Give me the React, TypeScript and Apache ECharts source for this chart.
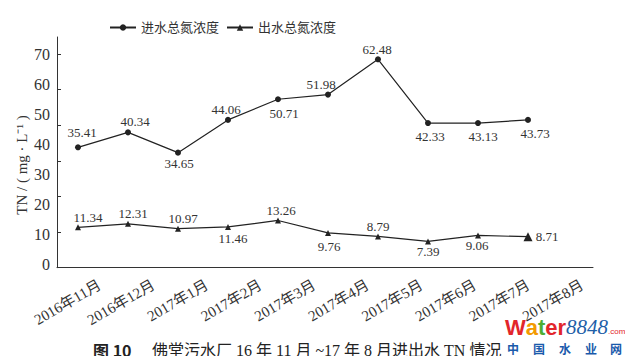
import React, { useEffect, useRef } from "react";
import * as echarts from "echarts";

const categories = [
  "2016年11月", "2016年12月", "2017年1月", "2017年2月", "2017年3月",
  "2017年4月", "2017年5月", "2017年6月", "2017年7月", "2017年8月",
];
// positions of the inflow points as drawn in the figure (against the tick-mark scale)
const inflowPlot = [33.8, 38.0, 32.3, 41.5, 47.3, 48.6, 58.5, 40.6, 40.6, 41.5];
const inflowLabels = ["35.41", "40.34", "34.65", "44.06", "50.71", "51.98", "62.48", "42.33", "43.13", "43.73"];
const outflowValues = [11.34, 12.31, 10.97, 11.46, 13.26, 9.76, 8.79, 7.39, 9.06, 8.71];
const outflowLabels = ["11.34", "12.31", "10.97", "11.46", "13.26", "9.76", "8.79", "7.39", "9.06", "8.71"];
const yLabelTicks = [0, 10, 20, 30, 40, 50, 60, 70];
const yTickMarks = [0, 10, 20, 30, 40, 50, 60];

// label placement (offset from point centre)
const inflowOffsets = [[4, -15], [7, -11], [1, 11], [-2, -10], [6, 14], [-7, -10], [-1, -10], [2, 13], [5, 13], [7, 14]];
const outflowOffsets = [[10, -10], [5, -10], [5, -10], [5, 12], [3, -10], [1, 14], [0, -10], [0, 10], [-1, 10], [19, 0]];

// the figure's printed labels and its tick marks use two different spacings
const LABEL_MIN = -0.896, LABEL_MAX = 75.64; // label scale
const TICK_MIN = 0, TICK_MAX = 64.77; // tick-mark / data scale
const toLabelScale = (t: number) =>
  LABEL_MIN + ((t - TICK_MIN) / (TICK_MAX - TICK_MIN)) * (LABEL_MAX - LABEL_MIN);

const SERIF = "'Liberation Serif', 'Noto Sans CJK SC', serif";
const CJK = "'Noto Sans CJK SC', sans-serif";

export default function App() {
  const ref = useRef<HTMLDivElement>(null);
  useEffect(() => {
    if (!ref.current) return;
    const chart = echarts.init(ref.current, undefined, { renderer: "svg" });
    const labelStyle = { fontSize: 13, color: "#333", fontFamily: SERIF };
    const wmChars = ["中", "国", "水", "业", "网"];
    const wmX = [507, 533, 559, 585, 610];
    chart.setOption({
      animation: false,
      backgroundColor: "#fff",
      textStyle: { fontFamily: SERIF },
      legend: {
        left: 104,
        top: 16,
        itemWidth: 26,
        itemHeight: 8,
        itemGap: 7,
        textStyle: { fontSize: 13, color: "#333", fontFamily: SERIF },
        data: ["进水总氮浓度", "出水总氮浓度"],
      },
      grid: [
        { left: 57, right: 40, top: 37, bottom: 96.3 },
        { left: 73, right: 24, top: 37, bottom: 96.3 },
      ],
      xAxis: [
        {
          type: "value", gridIndex: 0, min: -0.42, max: 10.3,
          axisLine: { show: true, onZero: false, lineStyle: { color: "#333", width: 1 } },
          axisTick: { show: false }, axisLabel: { show: false }, splitLine: { show: false },
        },
        {
          type: "category", gridIndex: 1, data: categories, boundaryGap: true,
          axisLine: { show: false }, axisTick: { show: false },
          axisLabel: { rotate: 30, interval: 0, fontSize: 15, color: "#333", margin: 16, fontFamily: SERIF },
        },
      ],
      yAxis: [
        {
          type: "value", gridIndex: 0, min: LABEL_MIN, max: LABEL_MAX,
          axisLine: { show: true, onZero: false, lineStyle: { color: "#333", width: 1 } },
          axisTick: { show: true, inside: true, length: 4, customValues: yTickMarks.map(toLabelScale), lineStyle: { color: "#333" } },
          splitLine: { show: false },
          axisLabel: { customValues: yLabelTicks, fontSize: 16, color: "#333", margin: 7, fontFamily: SERIF },
        },
        {
          type: "value", gridIndex: 0, min: TICK_MIN, max: TICK_MAX, show: false,
        },
        { type: "value", gridIndex: 1, show: false },
      ],
      series: [
        {
          type: "line", name: "进水总氮浓度", xAxisIndex: 0, yAxisIndex: 1,
          symbol: "circle", symbolSize: 6,
          lineStyle: { color: "#222", width: 1.2 },
          itemStyle: { color: "#222" },
          label: { show: true, ...labelStyle },
          data: inflowPlot.map((v, i) => ({
            value: [i, v],
            label: { show: true, position: "inside", offset: inflowOffsets[i], formatter: inflowLabels[i], ...labelStyle },
          })),
        },
        {
          type: "line", name: "出水总氮浓度", xAxisIndex: 0, yAxisIndex: 1,
          symbol: "triangle", symbolSize: 6,
          lineStyle: { color: "#222", width: 1.2 },
          itemStyle: { color: "#222" },
          label: { show: true, ...labelStyle },
          data: outflowValues.map((v, i) => ({
            value: [i, v],
            symbolSize: i === outflowValues.length - 1 ? 9 : 6,
            label: { show: true, position: "inside", offset: outflowOffsets[i], formatter: outflowLabels[i], ...labelStyle },
          })),
        },
      ],
      graphic: [
        {
          type: "text", x: 22, y: 165, rotation: Math.PI / 2,
          style: { text: "TN / ( mg · L⁻¹ )", fontSize: 15, fill: "#333", fontFamily: SERIF, align: "center", verticalAlign: "middle" },
        },
        {
          type: "text", x: 93, y: 350,
          style: { text: "图 10", fontSize: 16, fontWeight: "bold", fill: "#222", fontFamily: CJK, verticalAlign: "middle" },
        },
        {
          type: "text", x: 152, y: 350,
          style: { text: "佛堂污水厂 16 年 11 月 ~17 年 8 月进出水 TN 情况", fontSize: 16, fill: "#222", fontFamily: SERIF, verticalAlign: "middle" },
        },
        {
          type: "text", x: 505, y: 327,
          style: {
            text: "{w|W}{a|a}{t|t}{e|e}{r|r}{n|8848}{c|.com}",
            verticalAlign: "middle",
            rich: {
              w: { fontSize: 22, lineHeight: 16, fontWeight: "bold", fill: "#e2262b", fontFamily: "'Liberation Sans', sans-serif" },
              a: { fontSize: 22, lineHeight: 16, fontWeight: "bold", fill: "#f39a00", fontFamily: "'Liberation Sans', sans-serif" },
              t: { fontSize: 22, lineHeight: 16, fontWeight: "bold", fill: "#4fae32", fontFamily: "'Liberation Sans', sans-serif" },
              e: { fontSize: 22, lineHeight: 16, fontWeight: "bold", fill: "#e2262b", fontFamily: "'Liberation Sans', sans-serif" },
              r: { fontSize: 22, lineHeight: 16, fontWeight: "bold", fill: "#e2262b", fontFamily: "'Liberation Sans', sans-serif" },
              n: { fontSize: 21, lineHeight: 16, fontStyle: "italic", fill: "#1f5fa8", fontFamily: "'Liberation Serif', serif" },
              c: { fontSize: 8, lineHeight: 16, fill: "#e2262b", fontFamily: "'Liberation Sans', sans-serif", verticalAlign: "bottom" },
            },
          },
        },
        ...wmChars.map((ch, i) => ({
          type: "text", x: wmX[i], y: 348,
          style: { text: ch, fontSize: 12, fontWeight: "bold", fill: "#1a5aab", fontFamily: CJK, verticalAlign: "middle" },
        })),
      ],
    });
    return () => chart.dispose();
  }, []);
  return <div ref={ref} style={{ width: 633, height: 364, margin: -8 }} />;
}
